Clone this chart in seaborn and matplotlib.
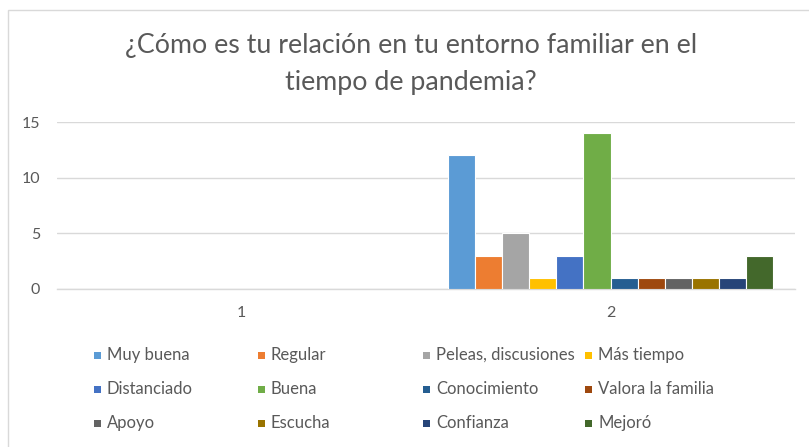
import matplotlib
matplotlib.use("Agg")
from matplotlib import pyplot as plt
from matplotlib.patches import Rectangle
import seaborn as sns
import pandas as pd
import numpy as np

# categories on the x axis
categories = ["1", "2"]

# answers (series) and their counts for category "2"; category "1" is empty
series = ["Muy buena", "Regular", "Peleas, discusiones", "Más tiempo",
          "Distanciado", "Buena", "Conocimiento", "Valora la familia",
          "Apoyo", "Escucha", "Confianza", "Mejoró"]
values_cat1 = [np.nan] * 12
values_cat2 = [12, 3, 5, 1, 3, 14, 1, 1, 1, 1, 1, 3]

# Excel office palette
colors = ["#5B9BD5", "#ED7D31", "#A5A5A5", "#FFC000", "#4472C4", "#70AD47",
          "#255E91", "#9E480E", "#636363", "#997300", "#264478", "#43682B"]

title = "¿Cómo es tu relación en tu entorno familiar en el\ntiempo de pandemia?"

rows = []
for s, v1, v2 in zip(series, values_cat1, values_cat2):
    rows.append({"cat": categories[0], "serie": s, "valor": v1})
    rows.append({"cat": categories[1], "serie": s, "valor": v2})
df = pd.DataFrame(rows)

sns.set_theme(style="white")
plt.rcParams['font.family'] = ['Lato', 'DejaVu Sans']

text_color = "#595959"
grid_color = "#D9D9D9"

fig = plt.figure(figsize=(8.09, 4.47), dpi=100)
ax = fig.add_axes([57 / 809, 1 - 289 / 447, 738 / 809, 167 / 447])

sns.barplot(
    data=df.dropna(), x="cat", y="valor", hue="serie",
    order=categories, hue_order=series,
    palette=dict(zip(series, colors)), saturation=1,
    width=0.88, edgecolor="white", linewidth=0.8,
    legend=False, ax=ax, zorder=3
)

ax.set_ylim(0, 15)
ax.set_xlim(-0.5, 1.5)
ax.set_yticks([0, 5, 10, 15])
ax.yaxis.grid(True, color=grid_color, linewidth=1.0, zorder=0)
ax.set_axisbelow(True)
for side in ["top", "left", "right"]:
    ax.spines[side].set_visible(False)
ax.spines["bottom"].set_color(grid_color)
ax.spines["bottom"].set_linewidth(1.0)
ax.tick_params(axis="both", length=0, labelsize=11.5, labelcolor=text_color)
ax.tick_params(axis="y", pad=12)
ax.tick_params(axis="x", pad=12)
ax.set_xlabel("")
ax.set_ylabel("")

fig.text(411 / 809, 1 - 64 / 447, title, ha="center", va="center",
         fontsize=19.3, color=text_color, linespacing=1.62)

# legend laid out like Excel: 4 equal columns, 3 rows
col_x = [97, 261, 426, 588]
row_y = [355, 389, 423]
for i, (s, c) in enumerate(zip(series, colors)):
    x = col_x[i % 4]
    y = row_y[i // 4]
    fig.add_artist(Rectangle(((x - 3.5) / 809, 1 - (y + 3.5) / 447), 7 / 809, 7 / 447,
                             transform=fig.transFigure, facecolor=c, edgecolor="none"))
    fig.text((x + 10) / 809, 1 - y / 447, s, ha="left", va="center",
             fontsize=12, color=text_color)

# chart frame
fig.add_artist(Rectangle((8 / 809, -0.2), 1.2, 1.2 - 10 / 447, transform=fig.transFigure,
                         facecolor="none", edgecolor=grid_color, linewidth=1.0))

fig.savefig("out.png", dpi=100)
